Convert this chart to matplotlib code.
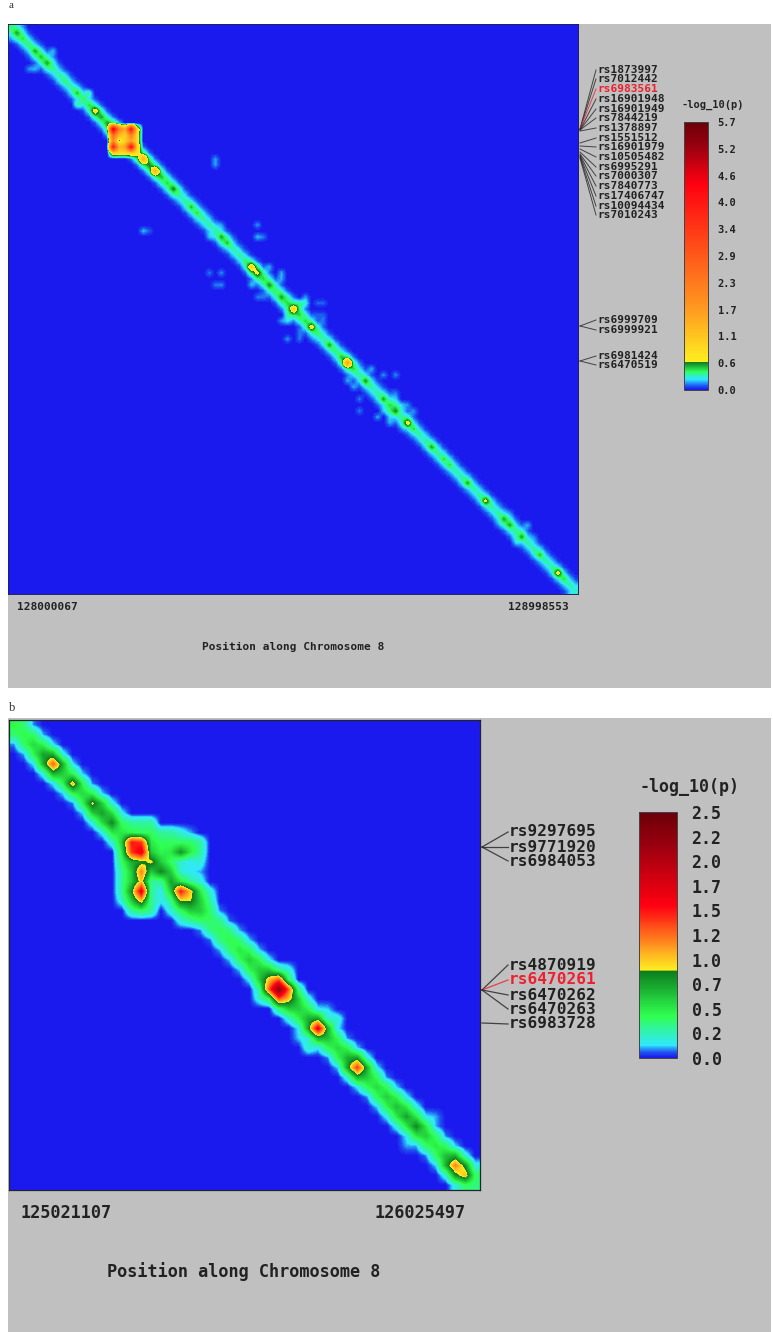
import numpy as np
import matplotlib
matplotlib.use("Agg")
from matplotlib import pyplot as plt
from matplotlib.colors import LinearSegmentedColormap, Normalize
from matplotlib.cm import ScalarMappable

W, H = 773, 1332

# panel a, 95 x 95 cells
a_diag = [0.4, 0.55, 0.45, 0.4, 0.55, 0.5, 0.55, 0.35, 0.35, 0.4,
          0.35, 0.5, 0.4, 0.45, 0.85, 0.55, 0.55, 4.8, 0.5, 0.9,
          4.0, 0.7, 1.5, 0.6, 1.4, 0.5, 0.45, 0.6, 0.35, 0.35,
          0.5, 0.45, 0.35, 0.35, 0.35, 0.55, 0.5, 0.35, 0.35, 0.4,
          1.0, 0.75, 0.45, 0.58, 0.4, 0.55, 0.45, 1.0, 0.45, 0.45,
          0.8, 0.4, 0.35, 0.55, 0.4, 0.5, 1.7, 0.45, 0.35, 0.58,
          0.35, 0.35, 0.55, 0.45, 0.6, 0.35, 0.8, 0.45, 0.35, 0.35,
          0.55, 0.35, 0.45, 0.45, 0.35, 0.35, 0.55, 0.35, 0.35, 0.75,
          0.35, 0.35, 0.55, 0.55, 0.35, 0.55, 0.35, 0.35, 0.5, 0.35,
          0.35, 0.8, 0.45, 0.35, 0.3]
a_off1 = [0.3, 0.3, 0.25, 0.25, 0.3, 0.3, 0.3, 0.22, 0.25, 0.22,
          0.25, 0.25, 0.25, 0.3, 0.35, 0.3, 0.4, 1.3, 1.1, 1.3,
          0.6, 0.4, 0.4, 0.35, 0.35, 0.3, 0.3, 0.3, 0.22, 0.25,
          0.25, 0.25, 0.22, 0.22, 0.25, 0.3, 0.22, 0.22, 0.22, 0.3,
          0.4, 0.35, 0.3, 0.3, 0.3, 0.3, 0.35, 0.4, 0.3, 0.3,
          0.3, 0.25, 0.25, 0.25, 0.25, 0.35, 0.35, 0.25, 0.25, 0.25,
          0.22, 0.25, 0.25, 0.35, 0.25, 0.3, 0.25, 0.22, 0.22, 0.25,
          0.25, 0.25, 0.25, 0.22, 0.22, 0.25, 0.22, 0.22, 0.25, 0.25,
          0.22, 0.25, 0.3, 0.25, 0.3, 0.22, 0.22, 0.25, 0.22, 0.22,
          0.25, 0.25, 0.22, 0.22]
a_off2 = [0.1, 0.08, 0.08, 0.1, 0.1, 0.1, 0.08, 0.06, 0.07, 0.06,
          0.08, 0.08, 0.08, 0.1, 0.1, 0.12, 0.2, 0.4, 0.4, 0.2,
          0.12, 0.12, 0.12, 0.12, 0.1, 0.1, 0.1, 0.08, 0.06, 0.08,
          0.08, 0.08, 0.06, 0.06, 0.08, 0.1, 0.06, 0.06, 0.06, 0.1,
          0.12, 0.12, 0.1, 0.1, 0.1, 0.12, 0.14, 0.14, 0.1, 0.1,
          0.1, 0.08, 0.08, 0.08, 0.1, 0.12, 0.12, 0.08, 0.08, 0.08,
          0.08, 0.1, 0.12, 0.14, 0.1, 0.1, 0.08, 0.06, 0.06, 0.07,
          0.07, 0.07, 0.07, 0.06, 0.06, 0.07, 0.06, 0.06, 0.07, 0.08,
          0.08, 0.1, 0.1, 0.1, 0.1, 0.07, 0.06, 0.07, 0.06, 0.06,
          0.07, 0.06, 0.06]
a_block = [[4.8, 2.2, 1.5, 4.2, 1.0],
           [2.6, 1.4, 1.0, 2.2, 0.9],
           [2.0, 0.5, 1.0, 1.6, 0.9],
           [4.0, 1.4, 1.6, 4.4, 1.0],
           [1.0, 0.9, 0.9, 1.0, 0.8]]
# (row, col, value)
a_spots = [(0, 2, 0.16), (2, 0, 0.16), (4, 7, 0.2), (5, 7, 0.16), (7, 4, 0.2), (7, 3, 0.16),
           (11, 13, 0.33), (13, 11, 0.33), (22, 34, 0.17), (23, 34, 0.17), (34, 22, 0.2), (34, 23, 0.1),
           (33, 35, 0.17), (35, 33, 0.2), (33, 41, 0.15), (35, 41, 0.2), (35, 42, 0.13), (41, 33, 0.13),
           (41, 35, 0.15), (43, 34, 0.13), (43, 35, 0.15), (40, 43, 0.18), (43, 40, 0.2), (41, 45, 0.18),
           (42, 45, 0.18), (45, 41, 0.13), (45, 42, 0.13), (46, 51, 0.1), (46, 52, 0.1), (48, 51, 0.1),
           (48, 52, 0.1), (49, 52, 0.13), (49, 46, 0.13), (52, 46, 0.15), (51, 48, 0.13), (52, 48, 0.13),
           (52, 50, 0.13), (51, 51, 0.13), (51, 52, 0.13), (52, 52, 0.13), (46, 45, 0.33), (45, 46, 0.33),
           (46, 49, 0.3), (49, 46, 0.25), (45, 49, 0.15), (49, 45, 0.15), (46, 48, 0.33), (48, 46, 0.33),
           (59, 56, 0.18), (60, 57, 0.18), (62, 58, 0.13), (64, 58, 0.13), (57, 60, 0.18), (58, 62, 0.15),
           (58, 64, 0.15), (61, 62, 0.13), (61, 64, 0.13), (65, 61, 0.18), (66, 63, 0.18), (67, 65, 0.15),
           (63, 66, 0.15), (64, 67, 0.15), (62, 64, 0.22), (64, 62, 0.22), (63, 65, 0.22), (65, 63, 0.22),
           (81, 83, 0.15), (83, 81, 0.15), (83, 86, 0.18), (86, 84, 0.22), (85, 87, 0.15)]
a_ticks = ["0.0", "0.6", "1.1", "1.7", "2.3", "2.9", "3.4", "4.0", "4.6", "5.2", "5.7"]
a_snps = ["rs1873997", "rs7012442", "rs6983561", "rs16901948", "rs16901949", "rs7844219",
          "rs1378897", "rs1551512", "rs16901979", "rs10505482", "rs6995291", "rs7000307",
          "rs7840773", "rs17406747", "rs10094434", "rs7010243", "rs6999709", "rs6999921",
          "rs6981424", "rs6470519"]
a_snp_y = [70, 79, 89, 99, 109, 118, 128, 138, 147, 157, 167, 176, 186, 196, 206, 215, 320, 330, 356, 365]
a_snp_from = [129, 129, 129, 130, 130, 130, 131, 143, 146, 149, 152, 154, 155, 156, 157, 158, 326, 326, 361, 361]

# panel b, 48 x 48 cells
b_diag = [0.45, 0.45, 0.55, 0.75, 1.3, 0.6, 1.05, 0.55, 0.95, 0.75,
          0.85, 0.55, 1.5, 1.7, 0.95, 0.7, 0.85, 1.5, 0.9, 0.45,
          0.4, 0.42, 0.45, 0.5, 0.6, 0.6, 1.0, 2.3, 1.0, 0.6,
          0.7, 1.7, 0.65, 0.55, 0.7, 1.4, 0.6, 0.55, 0.6, 0.65,
          0.75, 0.85, 0.6, 0.5, 0.65, 1.2, 1.05, 0.35]
b_off1 = [0.38, 0.4, 0.45, 0.7, 0.7, 0.45, 0.45, 0.45, 0.6, 0.55,
          0.5, 0.5, 1.4, 0.6, 0.6, 0.6, 0.8, 0.9, 0.5, 0.38,
          0.34, 0.36, 0.38, 0.42, 0.45, 0.6, 1.3, 1.3, 0.6, 0.45,
          0.75, 0.7, 0.42, 0.45, 0.75, 0.7, 0.42, 0.42, 0.45, 0.5,
          0.5, 0.5, 0.4, 0.4, 0.7, 0.8, 0.4]
b_off2 = [0.08, 0.1, 0.14, 0.18, 0.14, 0.12, 0.08, 0.12, 0.18, 0.16,
          0.2, 0.3, 0.4, 0.3, 0.3, 0.3, 0.3, 0.22, 0.12, 0.08,
          0.06, 0.1, 0.12, 0.12, 0.16, 0.3, 0.4, 0.35, 0.2, 0.14,
          0.2, 0.14, 0.08, 0.12, 0.2, 0.14, 0.08, 0.12, 0.16, 0.18,
          0.14, 0.1, 0.08, 0.12, 0.2, 0.18]
b_block = [[0.4, 0.3, 0.3, 0.3, 0.0, 0.0, 0.0, 0.0, 0.0, 0.0],
           [0.5, 0.45, 0.4, 0.4, 0.3, 0.3, 0.2, 0.1, 0.0, 0.0],
           [0.6, 1.5, 1.4, 0.5, 0.4, 0.4, 0.4, 0.4, 0.3, 0.0],
           [0.5, 1.4, 1.7, 0.6, 0.45, 0.5, 0.8, 0.5, 0.3, 0.0],
           [0.4, 0.7, 0.8, 0.95, 0.6, 0.4, 0.2, 0.15, 0.2, 0.0],
           [0.3, 0.6, 1.2, 0.6, 0.85, 0.6, 0.2, 0.15, 0.1, 0.0],
           [0.3, 0.6, 1.0, 0.3, 0.3, 0.75, 0.5, 0.3, 0.2, 0.0],
           [0.3, 0.8, 1.7, 0.3, 0.15, 0.6, 1.5, 1.0, 0.5, 0.2],
           [0.2, 0.6, 1.0, 0.3, 0.15, 0.3, 0.9, 0.9, 0.6, 0.3],
           [0.0, 0.3, 0.4, 0.3, 0.0, 0.2, 0.4, 0.6, 0.6, 0.4],
           [0.0, 0.0, 0.0, 0.0, 0.0, 0.0, 0.2, 0.3, 0.4, 0.4]]
b_spots = [(25, 28, 0.2), (28, 25, 0.2), (29, 32, 0.12), (32, 29, 0.12), (30, 33, 0.2), (33, 30, 0.22),
           (40, 43, 0.1), (43, 40, 0.1)]
b_ticks = ["0.0", "0.2", "0.5", "0.7", "1.0", "1.2", "1.5", "1.7", "2.0", "2.2", "2.5"]
b_snps = ["rs9297695", "rs9771920", "rs6984053", "rs4870919", "rs6470261", "rs6470262", "rs6470263", "rs6983728"]
b_snp_y = [832, 847, 861, 965, 980, 995, 1009, 1024]
b_snp_from = [847, 847, 847, 990, 990, 990, 990, 1023]


def fill_matrix(n, diag, off1, off2):
    z = np.zeros((n, n))
    for i in range(n):
        z[i, i] = diag[i]
    for i in range(n - 1):
        z[i, i + 1] = off1[i]
        z[i + 1, i] = off1[i]
    for i in range(n - 2):
        z[i, i + 2] = off2[i]
        z[i + 2, i] = off2[i]
    return z


def make_axes(fig, x0, y0, x1, y1):
    return fig.add_axes([x0 / W, 1 - y1 / H, (x1 - x0) / W, (y1 - y0) / H])


za = fill_matrix(95, a_diag, a_off1, a_off2)
for r, row in enumerate(a_block):
    for c, v in enumerate(row):
        za[17 + r, 17 + c] = v
for r, c, v in a_spots:
    za[r, c] = max(za[r, c], v)

zb = fill_matrix(48, b_diag, b_off1, b_off2)
for r, row in enumerate(b_block):
    for c, v in enumerate(row):
        zb[10 + r, 11 + c] = v
for r, c, v in b_spots:
    zb[r, c] = max(zb[r, c], v)

cmap_a = LinearSegmentedColormap.from_list("a", [
    (0.0, "#1a1aee"), (0.012, "#1a4cf0"), (0.04, "#30e8ff"), (0.065, "#30ff60"),
    (0.104, "#0c7a1c"), (0.1055, "#ffee20"), (0.30, "#ff9a20"), (0.77, "#ff0010"),
    (0.90, "#a00010"), (1.0, "#6a0008")])
cmap_b = LinearSegmentedColormap.from_list("b", [
    (0.0, "#1a1aee"), (0.02, "#2050f0"), (0.05, "#30e8ff"), (0.17, "#30ff50"),
    (0.355, "#0c7a1c"), (0.358, "#ffee20"), (0.45, "#ff9a20"), (0.62, "#ff0010"),
    (0.85, "#a00010"), (1.0, "#6a0008")])

fig = plt.figure(figsize=(W / 100, H / 100), dpi=100, facecolor="white")

over = fig.add_axes([0, 0, 1, 1], zorder=0)
over.set_xlim(0, W)
over.set_ylim(H, 0)
over.axis("off")
over.axvspan(8, 771, ymin=1 - 688 / H, ymax=1 - 24 / H, color="#c0c0c0", lw=0)
over.axvspan(8, 771, ymin=0, ymax=1 - 718 / H, color="#c0c0c0", lw=0)
over.text(9, 5, "a", family="Liberation Serif", fontsize=8, color="#333333", va="center")
over.text(9, 708, "b", family="Liberation Serif", fontsize=9, color="#333333", va="center")

mono = dict(family="DejaVu Sans Mono", weight="bold", color="#222222", va="center")

# heat maps
ax = make_axes(fig, 8, 24, 578, 594)
ax.imshow(za, cmap=cmap_a, norm=Normalize(0, 5.7), aspect="auto", interpolation="bilinear")
ax.set_xticks([])
ax.set_yticks([])
for s in ax.spines.values():
    s.set_color("#222266")
    s.set_linewidth(0.7)

ax = make_axes(fig, 9, 720, 480, 1190)
ax.imshow(zb, cmap=cmap_b, norm=Normalize(0, 2.5), aspect="auto", interpolation="bilinear")
ax.set_xticks([])
ax.set_yticks([])
for s in ax.spines.values():
    s.set_color("#222233")
    s.set_linewidth(0.9)

# colour bars, the printed labels are rounded but evenly spaced
cax = make_axes(fig, 684, 122, 708, 390)
cb = fig.colorbar(ScalarMappable(Normalize(0, 5.7), cmap_a), cax=cax, ticks=np.linspace(0, 5.7, len(a_ticks)))
cb.ax.set_yticklabels(a_ticks, family="DejaVu Sans Mono", weight="bold", fontsize=7.5, color="#222222")
cb.ax.tick_params(length=0, pad=7)
cb.outline.set_edgecolor("#444444")
cb.outline.set_linewidth(0.7)

cax = make_axes(fig, 639, 812, 677, 1058)
cb = fig.colorbar(ScalarMappable(Normalize(0, 2.5), cmap_b), cax=cax, ticks=np.linspace(0, 2.5, len(b_ticks)))
cb.ax.set_yticklabels(b_ticks, family="DejaVu Sans Mono", weight="bold", fontsize=12, color="#222222")
cb.ax.tick_params(length=0, pad=10.5)
cb.outline.set_edgecolor("#444444")
cb.outline.set_linewidth(0.7)

# snp labels with leader lines
for name, y, y0 in zip(a_snps, a_snp_y, a_snp_from):
    col = "#ee2030" if name == "rs6983561" else "#222222"
    over.plot([580, 596], [y0, y], color=col, lw=0.7, alpha=0.8)
    over.text(597, y, name, fontsize=8, **{**mono, "color": col})

for name, y, y0 in zip(b_snps, b_snp_y, b_snp_from):
    col = "#ee2030" if name == "rs6470261" else "#222222"
    over.plot([482, 508], [y0, y], color=col, lw=0.9, alpha=0.8)
    over.text(509, y, name, fontsize=11.6, **{**mono, "color": col})

over.text(713, 105, "-log_10(p)", fontsize=7.5, ha="center", **mono)
over.text(689, 787, "-log_10(p)", fontsize=12, ha="center", **mono)

over.text(17, 607, "128000067", fontsize=8, **mono)
over.text(508, 607, "128998553", fontsize=8, **mono)
over.text(293, 647, "Position along Chromosome 8", fontsize=8, ha="center", **mono)

over.text(21, 1213, "125021107", fontsize=12.2, **mono)
over.text(374, 1213, "126025497", fontsize=12.2, **mono)
over.text(244, 1272, "Position along Chromosome 8", fontsize=12.2, ha="center", **mono)

fig.savefig("out.png", dpi=100)
